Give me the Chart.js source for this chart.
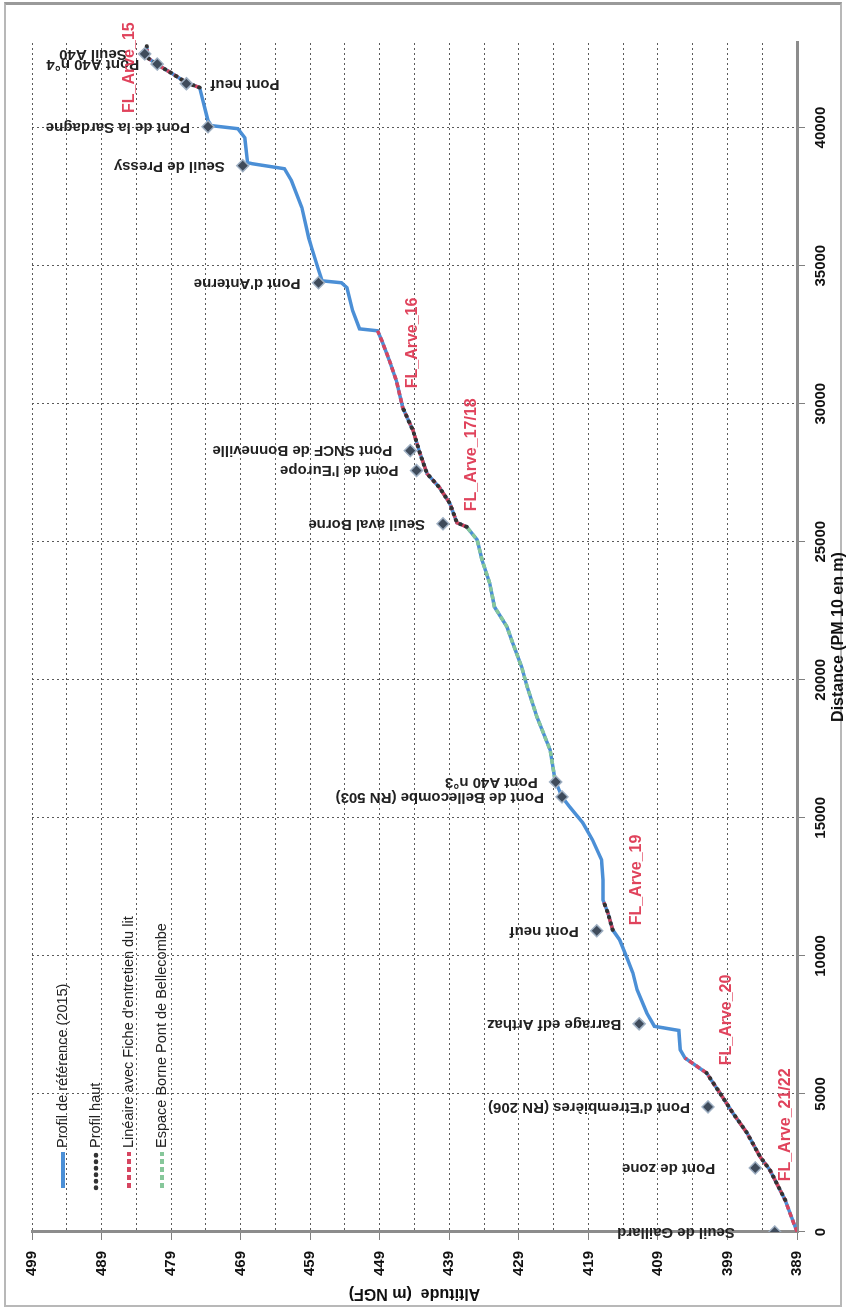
<!DOCTYPE html>
<html>
<head>
<meta charset="utf-8">
<script src="https://cdn.jsdelivr.net/npm/chart.js@4.4.1/dist/chart.umd.min.js"></script>
<style>
  html, body { margin: 0; padding: 0; background: #fff; }
  body { width: 850px; height: 1312px; position: relative; overflow: hidden; }
  #frame { position: absolute; left: 4px; top: 2px; width: 838px; height: 1305px; border: 2px solid #b8b8b8; border-top: 3px solid #9a9a9a; box-sizing: border-box; }
  #turn { position: absolute; left: 0; top: 0; width: 1312px; height: 850px; transform-origin: 0 0; transform: translateY(1312px) rotate(-90deg); }
</style>
</head>
<body>
<div id="frame"></div>
<div id="turn"><canvas id="profil" width="1312" height="850"></canvas></div>
<script>
// --- Profil en long (distance PM en m / altitude m NGF) ---
const distances = [0, 1160, 2250, 2720, 3590, 4300, 5040, 5760, 6300, 6600,
    7300, 7450, 7930, 8770, 9380, 9960, 10580, 10940, 11560, 12030,
    12750, 13480, 14200, 14820, 15400, 15760, 16380, 17460, 18660, 19750,
    20470, 21340, 21920, 22640, 23510, 24350, 25070, 25540, 25690, 26380,
    26960, 27470, 28190, 29020, 29860, 30830, 31560, 32280, 32640, 32710,
    33370, 34200, 34380, 34450, 34920, 35650, 36000, 37100, 38080, 38510,
    38690, 38730, 39630, 39960, 40070, 40250, 41450, 41630, 41950, 42240,
    42530, 42950];
const altitudes = [389.0, 390.7, 392.9, 394.3, 396.2, 398.2, 400.1, 402.0, 405.1, 405.8,
    406.0, 409.5, 410.6, 412.0, 412.6, 413.5, 414.5, 415.5, 416.2, 416.9,
    416.9, 417.1, 418.4, 419.8, 421.7, 422.8, 423.8, 424.5, 426.4, 427.8,
    428.6, 429.9, 430.7, 432.5, 433.2, 434.3, 435.0, 436.5, 437.9, 438.9,
    440.4, 442.2, 443.2, 444.2, 445.7, 446.6, 447.6, 448.7, 449.3, 451.9,
    452.9, 453.7, 454.5, 457.3, 457.9, 458.8, 459.2, 460.2, 461.7, 462.7,
    467.3, 468.0, 468.4, 469.4, 473.2, 473.7, 474.9, 476.8, 478.8, 480.7,
    482.4, 482.5];

// tronçons (en m) couverts par les autres séries
const ficheRanges = [[0, 6300], [10940, 12030], [25540, 32640], [41450, 42950]];
const borneRanges = [[16380, 25540]];
const hautRanges = [[1160, 5760], [10940, 12030], [25540, 29860], [41450, 42950]];

// ouvrages
const ouvrages = ['Seuil de Gaillard', 'Pont de zone', "Pont d'Etrembières (RN 206)", 'Barrage edf Arthaz',
    'Pont neuf', 'Pont de Bellecombe (RN 503)', 'Pont A40 n°3', 'Seuil aval Borne', "Pont de l'Europe",
    'Pont SNCF de Bonneville', "Pont d'Anterne", 'Seuil de Pressy', 'Pont de la Sardagne', 'Pont neuf',
    'Pont A40 n°4', 'Seuil A40'];
const ouvrageDist = [0, 2320, 4530, 7540, 10910, 15760, 16300, 25650, 27580, 28300,
    34380, 38620, 40030, 41590, 42300, 42670];
const ouvrageAlt = [392.2, 395.0, 401.8, 411.7, 417.8, 422.8, 423.7, 439.9, 443.7, 444.6,
    457.8, 468.7, 473.7, 476.8, 481.0, 482.8];

// fiches d'entretien
const ficheNames = ['FL_Arve_21/22', 'FL_Arve_20', 'FL_Arve_19', 'FL_Arve_17/18', 'FL_Arve_16', 'FL_Arve_15'];
const ficheDist = [3880, 7680, 12750, 28150, 32200, 42170];
const ficheAlt = [390.7, 399.1, 412.0, 435.8, 444.3, 485.0];

// axes
const distTicks = [0, 5000, 10000, 15000, 20000, 25000, 30000, 35000, 40000];
const altMin = 389, altMax = 499, distMax = 43100;

function pick(ranges) {
    const pts = [];
    ranges.forEach(([a, b], k) => {
        if (k > 0) pts.push({ x: a, y: null });
        distances.forEach((d, i) => {
            if (d >= a && d <= b) pts.push({ x: d, y: altitudes[i] });
        });
    });
    return pts;
}

const profil = distances.map((d, i) => ({ x: d, y: altitudes[i] }));
const points = ouvrageDist.map((d, i) => ({ x: d, y: ouvrageAlt[i] }));

const legendPlugin = {
    id: 'legendLines',
    afterDraw(chart) {
        const ctx = chart.ctx;
        const top = chart.chartArea.top;
        chart.data.datasets.slice(0, 4).forEach((ds, i) => {
            const y = top + 31 + i * 33;
            ctx.save();
            ctx.strokeStyle = ds.borderColor;
            ctx.lineWidth = ds.borderWidth + 0.5;
            ctx.lineCap = ds.borderCapStyle || 'butt';
            ctx.setLineDash(ds.borderDash || []);
            ctx.beginPath();
            ctx.moveTo(124, y);
            ctx.lineTo(160, y);
            ctx.stroke();
            ctx.setLineDash([]);
            ctx.fillStyle = '#222';
            ctx.font = '14.5px "Liberation Sans"';
            ctx.textBaseline = 'middle';
            ctx.fillText(ds.label, 164, y);
            ctx.restore();
        });
    }
};

// étiquettes : la plupart au-dessus du point, une en dessous, deux plus écartées
const labelsBelow = [13];
const labelsFar = [0, 1];
const labelPlugin = {
    id: 'ouvrageLabels',
    afterDraw(chart) {
        const ctx = chart.ctx;
        const meta = chart.getDatasetMeta(4);
        ctx.save();
        ctx.fillStyle = '#222';
        ctx.font = 'bold 15px "Liberation Sans"';
        ctx.textBaseline = 'middle';
        meta.data.forEach((pt, i) => {
            const below = labelsBelow.includes(i);
            const gap = labelsFar.includes(i) ? 40 : 18;
            ctx.save();
            ctx.translate(pt.x, pt.y);
            ctx.rotate(-Math.PI / 2);
            ctx.textAlign = below ? 'right' : 'left';
            ctx.fillText(ouvrages[i], below ? -24 : gap, 0);
            ctx.restore();
        });
        // fiches d'entretien
        const xs = chart.scales.x, ys = chart.scales.y;
        ctx.fillStyle = '#e0435c';
        ctx.font = 'bold 16px "Liberation Sans"';
        ctx.textAlign = 'center';
        ficheNames.forEach((name, i) => {
            ctx.fillText(name, xs.getPixelForValue(ficheDist[i]), ys.getPixelForValue(ficheAlt[i]));
        });
        ctx.restore();
    }
};

const tickFont = { family: '"Liberation Sans"', size: 15, weight: 'bold' };
const titleFont = { family: '"Liberation Sans"', size: 16, weight: 'bold' };

new Chart(document.getElementById('profil'), {
    type: 'scatter',
    data: {
        datasets: [{
            label: 'Profil de référence (2015)',
            data: profil,
            showLine: true,
            borderColor: '#4b8fd6',
            borderWidth: 3.5,
            pointRadius: 0,
            order: 5
        }, {
            label: 'Profil haut',
            data: pick(hautRanges),
            showLine: true,
            borderColor: '#333333',
            borderWidth: 4,
            borderDash: [0.5, 6],
            borderCapStyle: 'round',
            pointRadius: 0,
            order: 1
        }, {
            label: "Linéaire avec Fiche d'entretien du lit",
            data: pick(ficheRanges),
            showLine: true,
            borderColor: '#d64560',
            borderWidth: 3.5,
            borderDash: [5, 3],
            pointRadius: 0,
            order: 2
        }, {
            label: 'Espace Borne Pont de Bellecombe',
            data: pick(borneRanges),
            showLine: true,
            borderColor: '#86c79a',
            borderWidth: 3.5,
            borderDash: [5, 3],
            pointRadius: 0,
            order: 2
        }, {
            label: 'Ouvrages',
            data: points,
            pointStyle: 'rectRot',
            pointRadius: 6,
            backgroundColor: '#3f4b5b',
            borderColor: '#9fb0c3',
            borderWidth: 1.5,
            order: 0
        }]
    },
    options: {
        responsive: false,
        animation: false,
        layout: { padding: { top: 32, right: 42, left: 0, bottom: 0 } },
        scales: {
            x: {
                type: 'linear',
                min: 0,
                max: distMax,
                afterFit: (s) => { s.height = 53; },
                afterBuildTicks: (s) => { s.ticks = distTicks.map((v) => ({ value: v })); },
                ticks: { color: '#111', font: tickFont, padding: 7, maxRotation: 0, minRotation: 0, callback: (v) => String(v) },
                grid: { color: '#5a5a5a', tickColor: '#808080', tickLength: 8 },
                border: { display: true, color: '#8c8c8c', width: 3, dash: [2, 3] },
                title: { display: true, text: 'Distance (PM 10 en m)', color: '#111', font: titleFont, padding: { top: 0, bottom: 2 } }
            },
            y: {
                min: altMin,
                max: altMax,
                afterFit: (s) => { s.width = 80; },
                ticks: {
                    stepSize: 5,
                    autoSkip: false,
                    color: '#111',
                    font: tickFont,
                    padding: 11,
                    callback: (v) => ((v - altMin) % 10 === 0 ? v : '')
                },
                grid: {
                    color: '#5a5a5a',
                    tickLength: 8,
                    tickColor: (c) => (c.tick && (c.tick.value - altMin) % 10 === 0 ? '#808080' : 'rgba(0,0,0,0)')
                },
                border: { display: true, color: '#8c8c8c', width: 3, dash: [2, 3] },
                title: { display: true, text: 'Altitude  (m NGF)', color: '#111', font: titleFont, padding: { top: 9, bottom: 0 } }
            }
        },
        plugins: {
            legend: { display: false },
            tooltip: { enabled: false }
        }
    },
    plugins: [legendPlugin, labelPlugin]
});
</script>
</body>
</html>
